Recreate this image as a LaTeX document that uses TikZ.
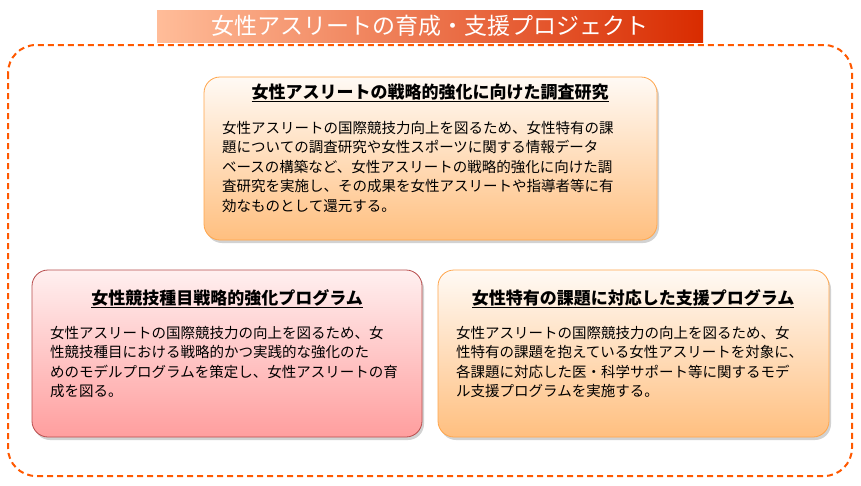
\documentclass[tikz,border=0pt]{standalone}
\usepackage{fontspec}
\setmainfont{Noto Sans CJK JP}
\newfontfamily\boldcjk{Noto Sans CJK JP}[BoldFont={Noto Sans CJK JP Bold}]
\usetikzlibrary{shadows}
\begin{document}
\begin{tikzpicture}[x=1pt,y=-1pt,
  card/.style={draw=#1, rounded corners=16pt, line width=0.8pt, drop shadow={opacity=0.35,shadow xshift=2pt,shadow yshift=-3pt}},
  head/.style={font=\fontsize{17}{20}\selectfont\bfseries, anchor=north},
  body/.style={font=\fontsize{14.5}{19.5}\selectfont, anchor=north west, align=left, inner sep=0pt}]
\useasboundingbox (0,0) rectangle (861,485);
\fill[white] (0,0) rectangle (861,485);
\node[draw=none, minimum width=546pt, minimum height=32pt, anchor=north west, left color=red!30!orange!40!white, right color=red!60!orange!85!black, inner sep=0pt] (title) at (157,10) {};
\node[text=white, font=\fontsize{23}{26}\selectfont] at (title.center) {女性アスリートの育成・支援プロジェクト};
\draw[orange!70!red, dashed, line width=2pt, dash pattern=on 6pt off 4pt, rounded corners=28pt] (8,45) rectangle (852,476);
\draw[card=orange!70, top color=orange!4, bottom color=orange!50] (204,77) rectangle (657,240);
\node[head] (h1) at (430,80) {\underline{女性アスリートの戦略的強化に向けた調査研究}};
\node[body] (b1) at (222,121) {女性アスリートの国際競技力向上を図るため、女性特有の課\\題についての調査研究や女性スポーツに関する情報データ\\ベースの構築など、女性アスリートの戦略的強化に向けた調\\査研究を実施し、その成果を女性アスリートや指導者等に有\\効なものとして還元する。};
\draw[card=red!60!black!70, top color=red!6, bottom color=red!38] (32,270) rectangle (422,437);
\node[head] (h2) at (227,286) {\underline{女性競技種目戦略的強化プログラム}};
\node[body] (b2) at (50,326) {女性アスリートの国際競技力の向上を図るため、女\\性競技種目における戦略的かつ実践的な強化のた\\めのモデルプログラムを策定し、女性アスリートの育\\成を図る。};
\draw[card=orange!70, top color=orange!4, bottom color=orange!50] (438,270) rectangle (829,437);
\node[head] (h3) at (633,286) {\underline{女性特有の課題に対応した支援プログラム}};
\node[body] (b3) at (456,326) {女性アスリートの国際競技力の向上を図るため、女\\性特有の課題を抱えている女性アスリートを対象に、\\各課題に対応した医・科学サポート等に関するモデ\\ル支援プログラムを実施する。};
\end{tikzpicture}
\end{document}
